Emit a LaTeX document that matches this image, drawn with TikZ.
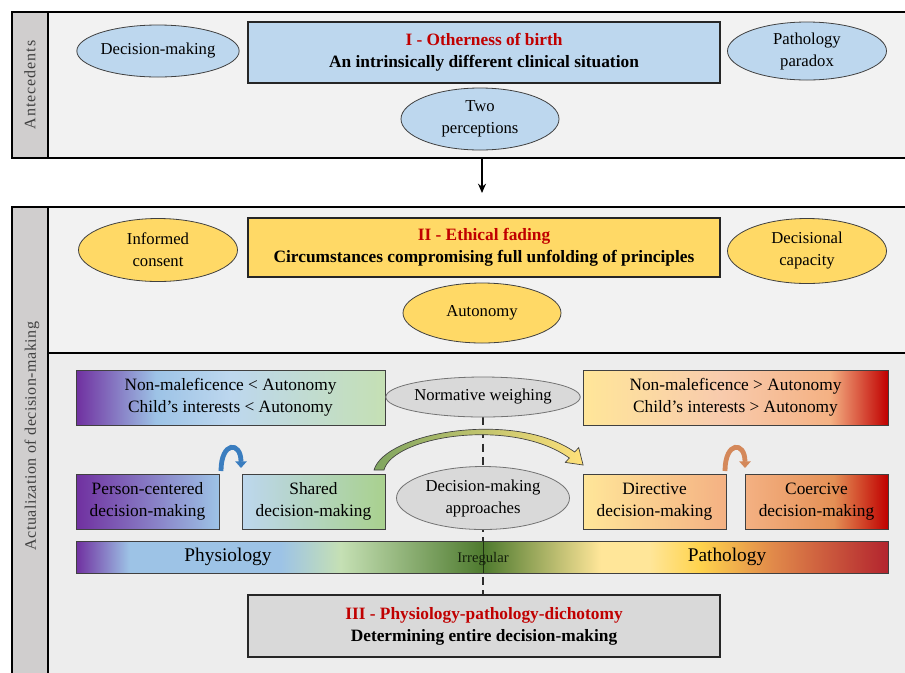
\documentclass[tikz,border=0pt]{standalone}
\usepackage{fontspec}
\setmainfont{Liberation Serif}
\usetikzlibrary{shapes.geometric,arrows.meta}
\definecolor{cPanel}{HTML}{F2F2F2}
\definecolor{cPanelB}{HTML}{EDEDED}
\definecolor{cStrip}{HTML}{D0CECE}
\definecolor{cBlueBox}{HTML}{BDD7EE}
\definecolor{cGoldBox}{HTML}{FFD966}
\definecolor{cGrayBox}{HTML}{D9D9D9}
\definecolor{cTitle}{HTML}{C00000}
\definecolor{cPurple}{HTML}{7030A0}
\definecolor{cLBlue}{HTML}{9DC3E6}
\definecolor{cLBlue2}{HTML}{BDD7EE}
\definecolor{cLGreen}{HTML}{C5E0B4}
\definecolor{cGreenBox}{HTML}{A9D18E}
\definecolor{cDGreen}{HTML}{4E7A2E}
\definecolor{cLYellow}{HTML}{FFE699}
\definecolor{cGold}{HTML}{FFD34D}
\definecolor{cOrange}{HTML}{E0884A}
\definecolor{cRed}{HTML}{B3242E}
\definecolor{cDRed}{HTML}{C00000}
\definecolor{cPeach}{HTML}{F8CBAD}
\definecolor{cSalmon}{HTML}{F4B183}
\definecolor{cArrowBlue}{HTML}{3A7DBF}
\definecolor{cArrowOrange}{HTML}{D4885A}
\definecolor{cArrowGreen}{HTML}{7FA560}
\definecolor{cArrowYellow}{HTML}{FFE17A}
\definecolor{cLine}{HTML}{404040}
\pgfdeclarehorizontalshading{barshade}{100bp}{color(0bp)=(cPurple); color(25bp)=(cPurple); color(28.3bp)=(cLBlue); color(37.6bp)=(cLBlue); color(41.3bp)=(cLGreen); color(50.1bp)=(cDGreen); color(57.3bp)=(cLYellow); color(60.3bp)=(cLYellow); color(63.4bp)=(cGold); color(68bp)=(cOrange); color(75bp)=(cRed); color(100bp)=(cRed)}
\pgfdeclarehorizontalshading{tlshade}{100bp}{color(0bp)=(cPurple); color(25bp)=(cPurple); color(38bp)=(cLBlue); color(50bp)=(cLBlue2); color(75bp)=(cLGreen); color(100bp)=(cLGreen)}
\pgfdeclarehorizontalshading{trshade}{100bp}{color(0bp)=(cLYellow); color(25bp)=(cLYellow); color(47.5bp)=(cPeach); color(65.5bp)=(cSalmon); color(75bp)=(cDRed); color(100bp)=(cDRed)}
\pgfdeclarehorizontalshading{coershade}{100bp}{color(0bp)=(cSalmon); color(25bp)=(cSalmon); color(56bp)=(cOrange!80!cSalmon); color(75bp)=(cDRed); color(100bp)=(cDRed)}
\def\pxu{0.75pt}
\tikzset{
  ell/.style={ellipse, draw=cLine, line width=0.6pt, inner sep=0pt, align=center,
    font=\fontsize{12.5}{16.5}\selectfont},
  bigbox/.style={rectangle, draw=black!85, line width=0.9pt, inner sep=0pt, align=center,
    minimum width=472*\pxu, font=\fontsize{13}{16.5}\selectfont\bfseries},
  gbox/.style={rectangle, draw=cLine, line width=0.6pt, inner sep=0pt, align=center,
    minimum height=55*\pxu, font=\fontsize{13}{16.5}\selectfont},
  panel/.style={draw=black, line width=1pt},
  striplabel/.style={rotate=90, text=cLine, font=\fontsize{12}{14}\selectfont\addfontfeature{LetterSpace=#1}},
  curvearrow/.style={line width=3.6pt, -{Triangle[width=8.5pt,length=5pt]}},
}
\begin{document}
\begin{tikzpicture}[x=0.75pt,y=-0.75pt]
\path[use as bounding box] (0,0) rectangle (905,672);
\clip (0,0) rectangle (905,672);
\fill[white] (0,0) rectangle (905,672);
% panels
\draw[panel, fill=cPanel] (12,12) rectangle (920,158);
\draw[panel, fill=cStrip] (12,12) rectangle (48,158);
\node[striplabel=6] (antlbl) at (30,85) {Antecedents};
\draw[panel, fill=cPanel] (12,207) rectangle (920,690);
\fill[cPanelB] (48,353) rectangle (920,690);
\draw[panel, fill=cStrip] (12,207) rectangle (48,690);
\draw[panel] (48,353) -- (920,353);
\node[striplabel=3] (actlbl) at (32,436) {Actualization of decision-making};
% connector between panels
\coordinate (p1b) at (482,158);
\coordinate (p2t) at (482,193);
\draw[line width=1.3pt, -{Stealth[length=7pt,width=6pt]}] (p1b) -- (p2t);
% panel I
\node[bigbox, fill=cBlueBox, minimum height=61*\pxu] (box1) at (484,52.5)
  {\textcolor{cTitle}{I - Otherness of birth}\\An intrinsically different clinical situation};
\node[ell, fill=cBlueBox, minimum width=160*\pxu, minimum height=52*\pxu] (dm) at (158,51) {Decision-making};
\node[ell, fill=cBlueBox, minimum width=159*\pxu, minimum height=58*\pxu] (pp) at (807,51) {Pathology\\paradox};
\node[ell, fill=cBlueBox, minimum width=158*\pxu, minimum height=62*\pxu] (tp) at (480,119) {Two\\perceptions};
% panel II
\node[bigbox, fill=cGoldBox, minimum height=59*\pxu] (box2) at (484,247.5)
  {\textcolor{cTitle}{II - Ethical fading}\\Circumstances compromising full unfolding of principles};
\node[ell, fill=cGoldBox, minimum width=159*\pxu, minimum height=63*\pxu] (ic) at (158,250) {Informed\\consent};
\node[ell, fill=cGoldBox, minimum width=159*\pxu, minimum height=65*\pxu] (dc) at (807,251) {Decisional\\capacity};
\node[ell, fill=cGoldBox, minimum width=158*\pxu, minimum height=60*\pxu] (au) at (482,313) {Autonomy};
% dashed axis, then bar and box III over it
\coordinate (nwtop) at (483,417);
\coordinate (b3top) at (483,595);
\draw[line width=1pt, dash pattern=on 6pt off 4pt, cLine!70!black] (nwtop) -- (b3top);
\node[rectangle, draw=cLine, line width=0.6pt, shading=barshade, minimum width=812*\pxu, minimum height=32*\pxu, inner sep=0pt] (bar) at (482,557) {};
\draw[line width=0.4pt, black!60!cDGreen] (bar.north -| nwtop) -- (bar.south -| nwtop);
\node[bigbox, fill=cGrayBox, minimum height=62*\pxu] (box3) at (484,626)
  {\textcolor{cTitle}{III - Physiology-pathology-dichotomy}\\Determining entire decision-making};
\node[font=\fontsize{14.5}{16}\selectfont] (phys) at (228,557) {Physiology};
\node[font=\fontsize{14.5}{16}\selectfont] (path) at (727,557) {Pathology};
\node[font=\fontsize{11}{12}\selectfont, text=black!75!cDGreen] (irr) at (483,559) {Irregular};
% gradient boxes
\node[gbox, minimum width=309*\pxu, shading=tlshade] (tl) at (230.5,397.5)
  {Non-maleficence < Autonomy\\Child’s interests < Autonomy};
\node[gbox, minimum width=305*\pxu, shading=trshade] (tr) at (735.5,397.5)
  {Non-maleficence > Autonomy\\Child’s interests > Autonomy};
\node[gbox, minimum width=143*\pxu, left color=cPurple, right color=cLBlue] (pc) at (147.5,501.5)
  {Person-centered\\decision-making};
\node[gbox, minimum width=143*\pxu, left color=cLBlue2, right color=cGreenBox] (sh) at (313.5,501.5)
  {Shared\\decision-making};
\node[gbox, minimum width=143*\pxu, left color=cLYellow, right color=cSalmon] (dir) at (654.5,501.5)
  {Directive\\decision-making};
\node[gbox, minimum width=143*\pxu, shading=coershade] (coe) at (816.5,501.5)
  {Coercive\\decision-making};
% gray ellipses
\node[ell, fill=cGrayBox, draw=black!55, minimum width=173*\pxu, minimum height=40*\pxu] (nw) at (483,397) {Normative weighing};
\node[ell, fill=cGrayBox, draw=black!55, minimum width=173*\pxu, minimum height=63*\pxu] (dma) at (483,498) {Decision-making\\approaches};
% small curved arrows
\coordinate (ba1) at (221,471);
\coordinate (ba2) at (241,468);
\draw[curvearrow, cArrowBlue] (ba1) .. controls (221,441) and (241,441) .. (ba2);
\coordinate (oa1) at (725,471);
\coordinate (oa2) at (745,468);
\draw[curvearrow, cArrowOrange] (oa1) .. controls (725,441) and (745,441) .. (oa2);
% big curved arrow (shaded block arrow)
\draw[draw=cLine, line width=0.5pt, left color=cArrowGreen, right color=cArrowYellow]
  (374,470) .. controls (385,432) and (515,410) .. (574.7,452)
  -- (578.7,447.6) -- (583.1,465) -- (565.3,462.4) -- (569.3,458)
  .. controls (512,417) and (393,436) .. (384,470) -- cycle;
\end{tikzpicture}
\end{document}
